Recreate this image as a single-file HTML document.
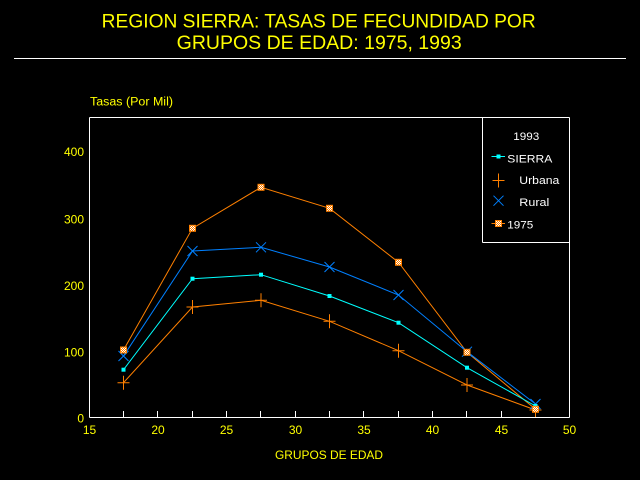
<!DOCTYPE html>
<html>
<head>
<meta charset="utf-8">
<style>
html,body{margin:0;padding:0;background:#000;}
svg{display:block;}
text{font-family:"Liberation Sans",Arial,sans-serif;}
</style>
</head>
<body>
<svg width="640" height="480" viewBox="0 0 640 480" xmlns="http://www.w3.org/2000/svg">
<defs>
<pattern id="chk" x="0" y="0" width="2" height="2" patternUnits="userSpaceOnUse">
<rect x="0" y="0" width="2" height="2" fill="#ffffff"/>
<rect x="0" y="0" width="1" height="1" fill="#ff8000"/>
<rect x="1" y="1" width="1" height="1" fill="#ff8000"/>
</pattern>
</defs>
<rect x="0" y="0" width="640" height="480" fill="#000"/>

<!-- Title -->
<text x="101.7" y="27.7" font-size="19" fill="#ffff00" textLength="434" lengthAdjust="spacingAndGlyphs">REGION SIERRA: TASAS DE FECUNDIDAD POR</text>
<text x="176.7" y="49" font-size="19" fill="#ffff00" textLength="285" lengthAdjust="spacingAndGlyphs">GRUPOS DE EDAD: 1975, 1993</text>
<line x1="14" y1="58.5" x2="626" y2="58.5" stroke="#ffffff" stroke-width="1" shape-rendering="crispEdges"/>

<text x="90" y="105.7" font-size="11.5" fill="#ffff00" textLength="83" lengthAdjust="spacingAndGlyphs">Tasas (Por Mil)</text>

<!-- Frame -->
<g stroke="#ffffff" stroke-width="1" shape-rendering="crispEdges" fill="none">
<line x1="89.5" y1="117.5" x2="569.5" y2="117.5"/>
<line x1="89.5" y1="117.5" x2="89.5" y2="417.5"/>
<line x1="89.5" y1="417.5" x2="569.5" y2="417.5"/>
<line x1="569.5" y1="117.5" x2="569.5" y2="417.5"/>
<!-- ticks -->
<line x1="123.5" y1="411" x2="123.5" y2="417"/>
<line x1="157.5" y1="411" x2="157.5" y2="417"/>
<line x1="192.5" y1="411" x2="192.5" y2="417"/>
<line x1="226.5" y1="411" x2="226.5" y2="417"/>
<line x1="260.5" y1="411" x2="260.5" y2="417"/>
<line x1="295.5" y1="411" x2="295.5" y2="417"/>
<line x1="329.5" y1="411" x2="329.5" y2="417"/>
<line x1="363.5" y1="411" x2="363.5" y2="417"/>
<line x1="398.5" y1="411" x2="398.5" y2="417"/>
<line x1="432.5" y1="411" x2="432.5" y2="417"/>
<line x1="466.5" y1="411" x2="466.5" y2="417"/>
<line x1="501.5" y1="411" x2="501.5" y2="417"/>
<line x1="535.5" y1="411" x2="535.5" y2="417"/>
<!-- legend box -->
<line x1="482.5" y1="117.5" x2="482.5" y2="242.5"/>
<line x1="482.5" y1="242.5" x2="569.5" y2="242.5"/>
</g>

<!-- Y labels -->
<g font-size="12" fill="#ffff00" text-anchor="end">
<text x="84" y="422.7">0</text>
<text x="84" y="356.3">100</text>
<text x="84" y="289.8">200</text>
<text x="84" y="223.3">300</text>
<text x="84" y="156">400</text>
</g>
<!-- X labels -->
<g font-size="12" fill="#ffff00" text-anchor="middle">
<text x="89.5" y="434">15</text>
<text x="158" y="434">20</text>
<text x="226.5" y="434">25</text>
<text x="295.5" y="434">30</text>
<text x="364" y="434">35</text>
<text x="432.5" y="434">40</text>
<text x="501.5" y="434">45</text>
<text x="569.5" y="434">50</text>
</g>
<text x="275" y="459" font-size="12" fill="#ffff00" textLength="108" lengthAdjust="spacingAndGlyphs">GRUPOS DE EDAD</text>

<!-- Series lines -->
<g fill="none" stroke-width="1">
<polyline stroke="#ff8000" points="123.5,350 192.5,228.3 261,187.3 329.5,208.3 398.5,262.3 467,352.3 535.5,409.3"/>
<polyline stroke="#0080ff" points="123.5,356 192.5,251 261,247.3 329.5,267 398.5,295 467,351.7 535.5,404"/>
<polyline stroke="#00ffff" points="123.5,369.7 192.5,278.7 261,274.7 329.5,296 398.5,322.7 467,367.7 535.5,406"/>
<polyline stroke="#ff8000" points="123.5,382.7 192.5,307 261,300.3 329.5,321.3 398.5,350.7 467,385 535.5,410"/>
</g>

<!-- Urbana + markers -->
<g stroke="#ff8000" stroke-width="1">
<path d="M117.5 382.7h12M123.5 375.7v14"/>
<path d="M186.5 307h12M192.5 300v14"/>
<path d="M255 300.3h12M261 293.3v14"/>
<path d="M323.5 321.3h12M329.5 314.3v14"/>
<path d="M392.5 350.7h12M398.5 343.7v14"/>
<path d="M461 385h12M467 378v14"/>
<path d="M529.5 410h12M535.5 403v14"/>
</g>
<!-- Rural X markers -->
<g stroke="#0080ff" stroke-width="1">
<path d="M118.5 351l10 10M128.5 351l-10 10"/>
<path d="M187.5 246l10 10M197.5 246l-10 10"/>
<path d="M256 242.3l10 10M266 242.3l-10 10"/>
<path d="M324.5 262l10 10M334.5 262l-10 10"/>
<path d="M393.5 290l10 10M403.5 290l-10 10"/>
<path d="M462 346.7l10 10M472 346.7l-10 10"/>
<path d="M530.5 399l10 10M540.5 399l-10 10"/>
</g>
<!-- SIERRA square markers -->
<g fill="#00ffff">
<rect x="121.5" y="367.7" width="4" height="4"/>
<rect x="190.5" y="276.7" width="4" height="4"/>
<rect x="259" y="272.7" width="4" height="4"/>
<rect x="327.5" y="294" width="4" height="4"/>
<rect x="396.5" y="320.7" width="4" height="4"/>
<rect x="465" y="365.7" width="4" height="4"/>
<rect x="533.5" y="404" width="4" height="4"/>
</g>
<!-- 1975 checkered markers -->
<g fill="url(#chk)" stroke="#ff8000" stroke-width="1">
<rect x="120.5" y="347" width="6" height="6"/>
<rect x="189.5" y="225.3" width="6" height="6"/>
<rect x="258" y="184.3" width="6" height="6"/>
<rect x="326.5" y="205.3" width="6" height="6"/>
<rect x="395.5" y="259.3" width="6" height="6"/>
<rect x="464" y="349.3" width="6" height="6"/>
<rect x="532.5" y="406.3" width="6" height="6"/>
</g>

<!-- Legend -->
<g font-size="11" fill="#ffffff">
<text x="513.3" y="140" textLength="26" lengthAdjust="spacingAndGlyphs">1993</text>
<text x="507.3" y="162.5" textLength="45" lengthAdjust="spacingAndGlyphs">SIERRA</text>
<text x="519.3" y="184" textLength="40" lengthAdjust="spacingAndGlyphs">Urbana</text>
<text x="519.3" y="206" textLength="30" lengthAdjust="spacingAndGlyphs">Rural</text>
<text x="507.3" y="228.5" textLength="26" lengthAdjust="spacingAndGlyphs">1975</text>
</g>
<line x1="491.5" y1="156.5" x2="505" y2="156.5" stroke="#00ffff" stroke-width="1"/>
<rect x="496.5" y="154.5" width="4" height="4" fill="#00ffff"/>
<path d="M492.5 180.5h12M498.5 173.5v14" stroke="#ff8000" stroke-width="1"/>
<path d="M493.5 195.7l10 10M503.5 195.7l-10 10" stroke="#0080ff" stroke-width="1"/>
<line x1="491.5" y1="223.5" x2="505" y2="223.5" stroke="#ff8000" stroke-width="1"/>
<rect x="495.5" y="220.5" width="6" height="6" fill="url(#chk)" stroke="#ff8000" stroke-width="1"/>
</svg>
</body>
</html>
